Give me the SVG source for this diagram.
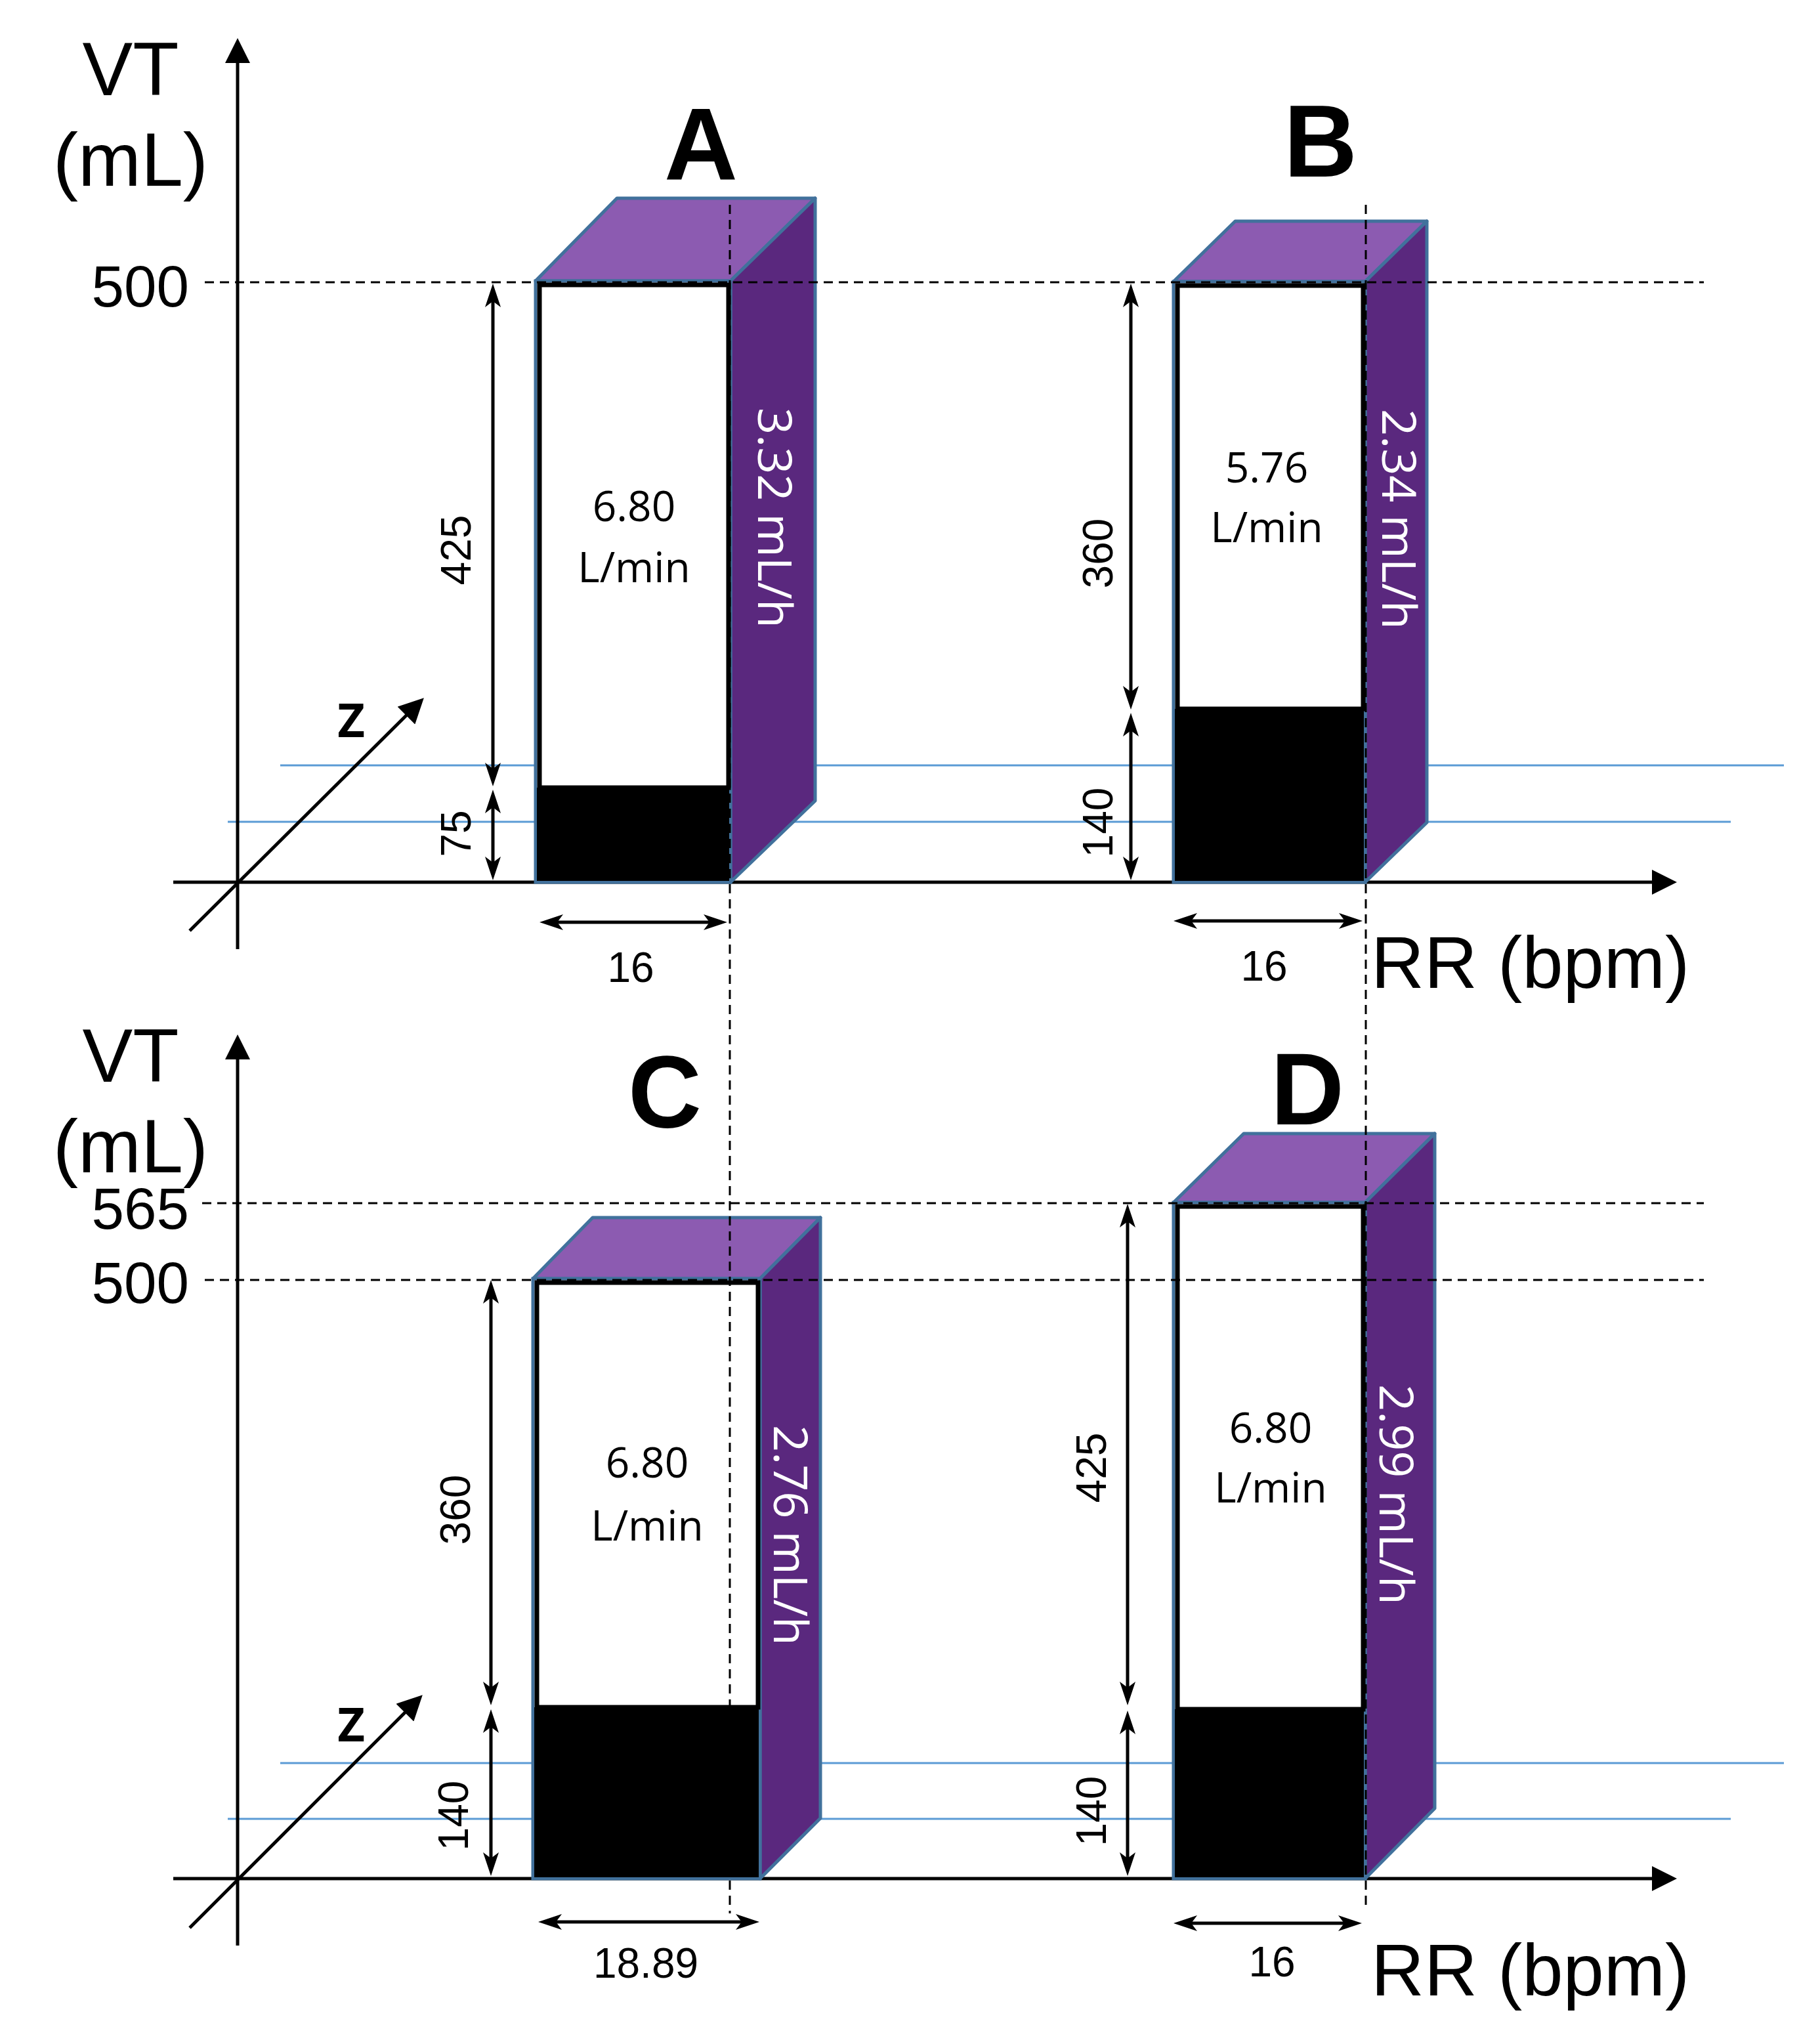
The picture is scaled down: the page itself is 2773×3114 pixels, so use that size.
<svg xmlns="http://www.w3.org/2000/svg" width="2773" height="3114" viewBox="0 0 2773 3114">
<defs>
<style>
.ax{stroke:#000;stroke-width:5;fill:none}
.axh{stroke:#000;stroke-width:5;fill:none;marker-end:url(#ah)}
.dash{stroke:#000;stroke-width:3;stroke-dasharray:14 9;fill:none}
.blue{stroke:#5B9BD5;stroke-width:3;fill:none}
.top{fill:#8C5BB1;stroke:#41719C;stroke-width:5;stroke-linejoin:round}
.side{fill:#5A287E;stroke:#41719C;stroke-width:5;stroke-linejoin:round}
.front{fill:#fff;stroke:#41719C;stroke-width:5}
.inner{fill:#fff;stroke:#000;stroke-width:7}
.blk{fill:#000}
.dim{stroke:#000;stroke-width:5;fill:none;marker-start:url(#dh);marker-end:url(#dh)}
.big{font-family:"Liberation Sans",Arial,sans-serif;font-size:115px;fill:#000;text-anchor:middle}
.tick{font-family:"Liberation Sans",Arial,sans-serif;font-size:89px;fill:#000;text-anchor:end}
.letter{font-family:"Liberation Sans",Arial,sans-serif;font-size:155px;font-weight:bold;fill:#000;text-anchor:middle}
.num{font-family:"Liberation Sans",Arial,sans-serif;font-size:64px;fill:#000;text-anchor:middle}
.flow{font-family:"Open Sans",sans-serif;font-size:64px;fill:#000;text-anchor:middle}
.rate{font-family:"Open Sans",sans-serif;font-size:72px;fill:#fff;text-anchor:middle}
.rr{font-family:"Liberation Sans",Arial,sans-serif;font-size:112px;fill:#000}
.z{font-family:"Open Sans",sans-serif;font-size:72px;font-weight:bold;fill:#000;text-anchor:middle}
</style>
<marker id="ah" markerUnits="userSpaceOnUse" viewBox="0 0 38 38" markerWidth="38" markerHeight="38" refX="10" refY="19" orient="auto">
<path d="M0,0 L38,19 L0,38 Z" fill="#000"/>
</marker>
<marker id="dh" markerUnits="userSpaceOnUse" viewBox="0 0 36 24" markerWidth="36" markerHeight="24" refX="16" refY="12" orient="auto-start-reverse">
<path d="M0,0 L36,12 L0,24 L9,12 Z" fill="#000"/>
</marker>
</defs>
<rect width="2773" height="3114" fill="#fff"/>

<g id="guides-blue">
<line class="blue" x1="427" y1="1166" x2="2718" y2="1166"/>
<line class="blue" x1="347" y1="1252" x2="2637" y2="1252"/>
<line class="blue" x1="427" y1="2686" x2="2718" y2="2686"/>
<line class="blue" x1="347" y1="2771" x2="2637" y2="2771"/>
</g>

<g id="axes">
<line class="axh" x1="362" y1="1446" x2="362" y2="86"/>
<line class="axh" x1="264" y1="1344" x2="2527" y2="1344"/>
<line class="axh" x1="289" y1="1418" x2="626" y2="1083"/>
<line class="axh" x1="362" y1="2964" x2="362" y2="1604"/>
<line class="axh" x1="264" y1="2862" x2="2527" y2="2862"/>
<line class="axh" x1="289" y1="2937" x2="624" y2="2602"/>
<text class="big" x="199" y="145">VT</text>
<text class="big" x="199" y="283">(mL)</text>
<text class="tick" x="288" y="467">500</text>
<text class="z" x="535" y="1123">Z</text>
<text class="rr" x="2089" y="1505">RR (bpm)</text>
<text class="big" x="199" y="1648">VT</text>
<text class="big" x="199" y="1786">(mL)</text>
<text class="tick" x="288" y="1872">565</text>
<text class="tick" x="288" y="1985">500</text>
<text class="z" x="535" y="2653">Z</text>
<text class="rr" x="2089" y="3040">RR (bpm)</text>
</g>

<g id="box-A">
<polygon class="top" points="816,428 940,302 1242,302 1113,428"/>
<polygon class="side" points="1113,428 1242,302 1242,1220 1113,1344"/>
<rect class="front" x="816" y="428" width="297" height="916"/>
<rect class="inner" x="822" y="434" width="288" height="766"/>
<rect class="blk" x="818" y="1200" width="293" height="142"/>
<text class="letter" x="1068" y="273">A</text>
<text class="flow" x="966" y="794">6.80</text>
<text class="flow" x="966" y="887">L/min</text>
<text class="rate" transform="translate(1155,789) rotate(90)">3.32 mL/h</text>
<text class="num" transform="translate(717,838) rotate(-90)">425</text>
<text class="num" transform="translate(717,1270) rotate(-90)">75</text>
<text class="num" x="961" y="1496">16</text>
</g>

<g id="box-B">
<polygon class="top" points="1788,429 1882,337 2174,337 2080,429"/>
<polygon class="side" points="2080,429 2174,337 2174,1253 2080,1344"/>
<rect class="front" x="1788" y="429" width="292" height="915"/>
<rect class="inner" x="1794" y="435" width="283" height="645"/>
<rect class="blk" x="1790" y="1080" width="288" height="262"/>
<text class="letter" x="2012" y="269">B</text>
<text class="flow" x="1930" y="735">5.76</text>
<text class="flow" x="1930" y="826">L/min</text>
<text class="rate" transform="translate(2106,791) rotate(90)">2.34 mL/h</text>
<text class="num" transform="translate(1695,843) rotate(-90)">360</text>
<text class="num" transform="translate(1695,1253) rotate(-90)">140</text>
<text class="num" x="1926" y="1494">16</text>
</g>

<g id="box-C">
<polygon class="top" points="812,1948 903,1855 1250,1855 1158,1948"/>
<polygon class="side" points="1158,1948 1250,1855 1250,2770 1158,2862"/>
<rect class="front" x="812" y="1948" width="346" height="914"/>
<rect class="inner" x="818" y="1954" width="337" height="647"/>
<rect class="blk" x="814" y="2601" width="342" height="259"/>
<text class="letter" x="1013" y="1717">C</text>
<text class="flow" x="986" y="2251">6.80</text>
<text class="flow" x="986" y="2347">L/min</text>
<text class="rate" transform="translate(1179,2339) rotate(90)">2.76 mL/h</text>
<text class="num" transform="translate(716,2300) rotate(-90)">360</text>
<text class="num" transform="translate(713,2766) rotate(-90)">140</text>
<text class="num" x="984" y="3013">18.89</text>
</g>

<g id="box-D">
<polygon class="top" points="1788,1832 1895,1727 2186,1727 2080,1832"/>
<polygon class="side" points="2080,1832 2186,1727 2186,2755 2080,2862"/>
<rect class="front" x="1788" y="1832" width="292" height="1030"/>
<rect class="inner" x="1794" y="1838" width="283" height="766"/>
<rect class="blk" x="1790" y="2604" width="288" height="256"/>
<text class="letter" x="1992" y="1713">D</text>
<text class="flow" x="1936" y="2198">6.80</text>
<text class="flow" x="1936" y="2289">L/min</text>
<text class="rate" transform="translate(2102,2277) rotate(90)">2.99 mL/h</text>
<text class="num" transform="translate(1685,2236) rotate(-90)">425</text>
<text class="num" transform="translate(1685,2759) rotate(-90)">140</text>
<text class="num" x="1938" y="3011">16</text>
</g>

<g id="guides-dashed">
<line class="dash" x1="312" y1="430" x2="2596" y2="430"/>
<line class="dash" x1="308" y1="1833" x2="2596" y2="1833"/>
<line class="dash" x1="312" y1="1950" x2="2596" y2="1950"/>
<line class="dash" x1="1112" y1="312" x2="1112" y2="2915"/>
<line class="dash" x1="2081" y1="312" x2="2081" y2="2905"/>
</g>

<g id="connectors">
<line class="dim" x1="751" y1="452" x2="751" y2="1178"/>
<line class="dim" x1="751" y1="1223" x2="751" y2="1321"/>
<line class="dim" x1="842" y1="1405" x2="1088" y2="1405"/>
<line class="dim" x1="1723" y1="452" x2="1723" y2="1061"/>
<line class="dim" x1="1723" y1="1106" x2="1723" y2="1321"/>
<line class="dim" x1="1808" y1="1403" x2="2056" y2="1403"/>
<line class="dim" x1="748" y1="1970" x2="748" y2="2578"/>
<line class="dim" x1="748" y1="2624" x2="748" y2="2838"/>
<line class="dim" x1="840" y1="2928" x2="1137" y2="2928"/>
<line class="dim" x1="1718" y1="1854" x2="1718" y2="2578"/>
<line class="dim" x1="1718" y1="2626" x2="1718" y2="2838"/>
<line class="dim" x1="1808" y1="2930" x2="2055" y2="2930"/>
</g>
</svg>
